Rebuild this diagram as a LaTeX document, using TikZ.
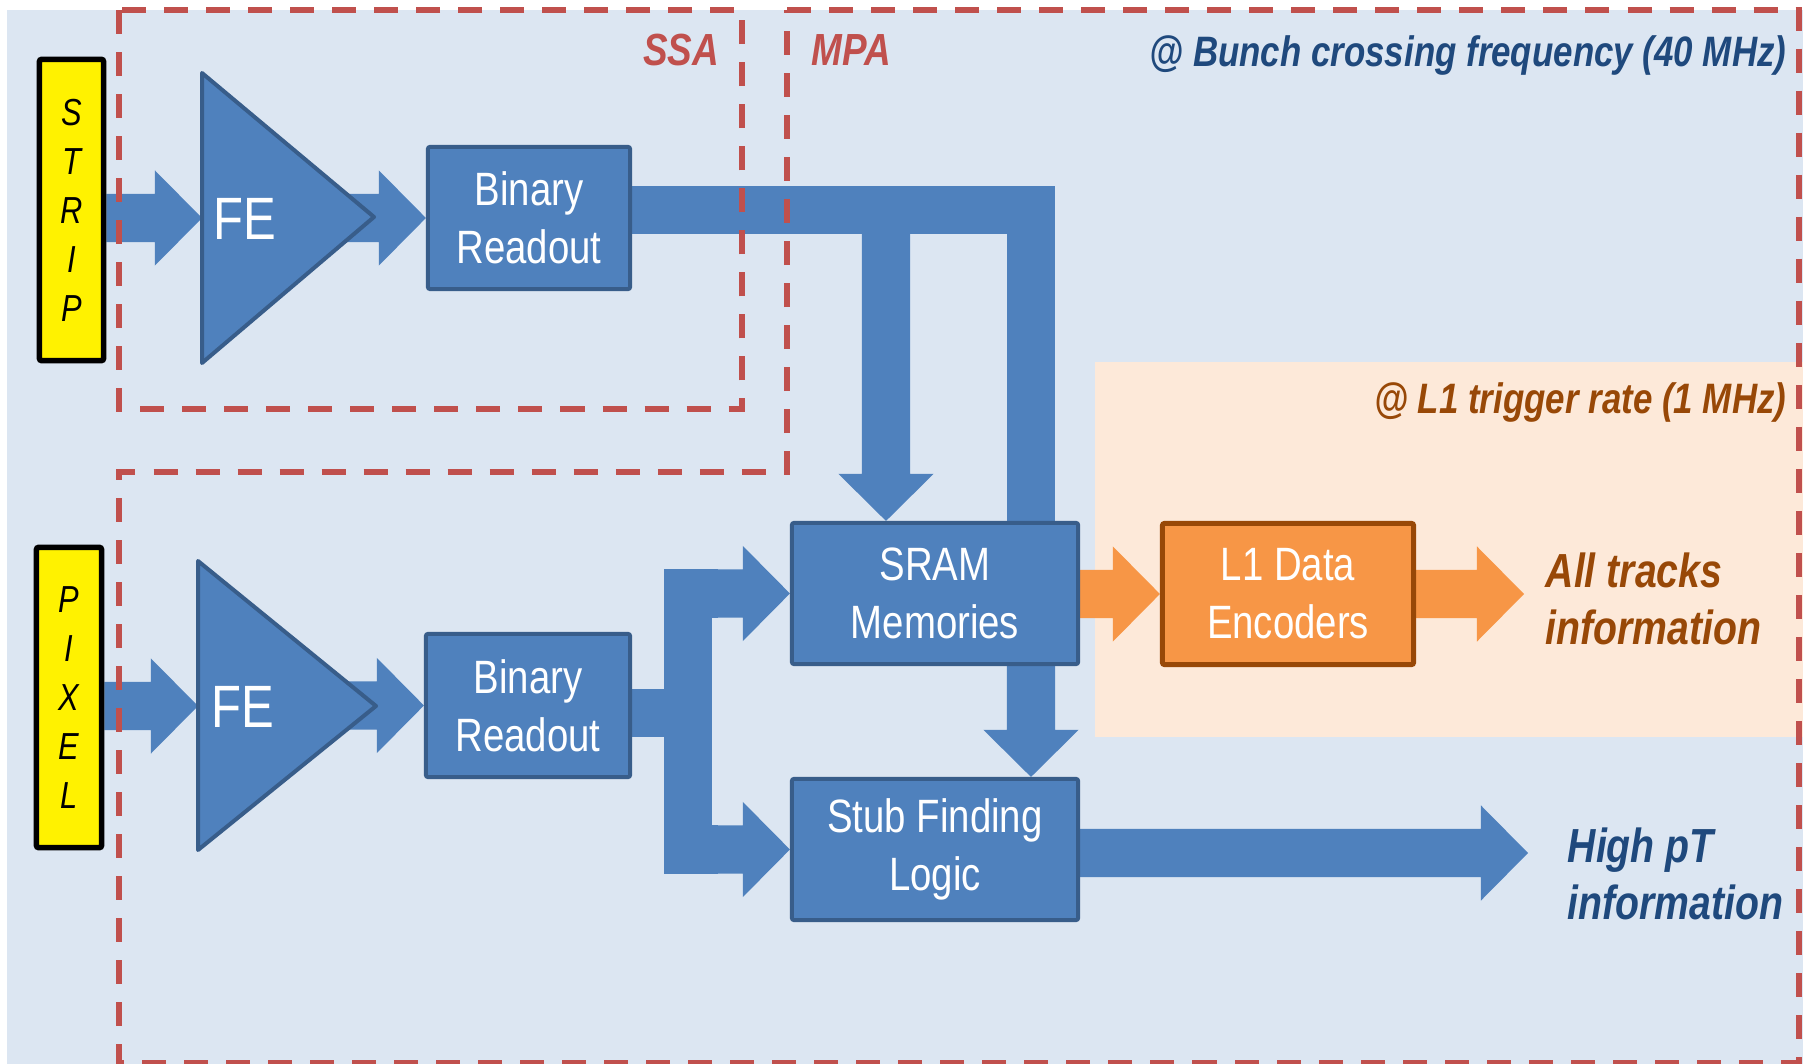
\documentclass[tikz,border=0pt]{standalone}
\usepackage{fontspec}
\setmainfont[FakeStretch=0.82]{Liberation Sans}
\usetikzlibrary{calc}
\pgfdeclarelayer{back}
\pgfdeclarelayer{mid}
\pgfsetlayers{back,mid,main}

\definecolor{bgblue}{HTML}{DCE6F2}
\definecolor{peach}{HTML}{FDE9D9}
\definecolor{blk}{HTML}{4F81BD}
\definecolor{blkline}{HTML}{385D8A}
\definecolor{encfill}{HTML}{F79646}
\definecolor{encline}{HTML}{984807}
\definecolor{zonered}{HTML}{C0504D}
\definecolor{navytxt}{HTML}{1F497D}
\definecolor{browntxt}{HTML}{984807}

% block-arrow geometry
\def\shaftw{0.24cm}
\def\headw{0.475cm}
\def\headl{0.47cm}

% horizontal block arrow: shaft starts at x of #2, tip at #3
\newcommand\harrow[3][blk]{%
  \fill[#1] let \p1=(#2), \p2=(#3) in
    (\x1,\y2+\shaftw) -- (\x2-\headl,\y2+\shaftw) -- (\x2-\headl,\y2+\headw)
    -- (\x2,\y2) -- (\x2-\headl,\y2-\headw) -- (\x2-\headl,\y2-\shaftw)
    -- (\x1,\y2-\shaftw) -- cycle;}
% downward block arrow: shaft starts at y of #2, tip at #3
\newcommand\varrow[3][blk]{%
  \fill[#1] let \p1=(#2), \p2=(#3) in
    (\x2-\shaftw,\y1) -- (\x2-\shaftw,\y2+\headl) -- (\x2-\headw,\y2+\headl)
    -- (\x2,\y2) -- (\x2+\headw,\y2+\headl) -- (\x2+\shaftw,\y2+\headl)
    -- (\x2+\shaftw,\y1) -- cycle;}

\tikzset{
  chip/.style={draw=blkline, fill=blk, line width=0.04cm, rounded corners=0.02cm,
    text=white, align=center, inner sep=0pt,
    font=\fontsize{13.3}{16.5}\selectfont},
  encoder/.style={chip, draw=encline, fill=encfill, line width=0.05cm},
  sensor/.style={draw=black, fill=yellow, line width=0.055cm, rounded corners=0.02cm,
    inner sep=0pt, align=center, font=\fontsize{10.7}{13.95}\selectfont\itshape},
  amp/.style={draw=blkline, fill=blk, line width=0.04cm, line join=round},
  amptext/.style={text=white, inner sep=0pt, anchor=west, font=\fontsize{17}{20}\selectfont},
  bus/.style={draw=blk, line width=0.48cm, line join=miter, line cap=butt},
  zone/.style={draw=zonered, line width=0.06cm, dash pattern=on 0.24cm off 0.18cm},
  zonelabel/.style={text=zonered, inner sep=0pt, anchor=base,
    font=\fontsize{12.8}{15}\selectfont\bfseries\itshape},
  ratelabel/.style={inner sep=0pt, anchor=base east,
    font=\fontsize{12.1}{14}\selectfont\bfseries\itshape},
  outlabel/.style={inner sep=0pt, anchor=west, align=left,
    font=\fontsize{13.6}{16.2}\selectfont\bfseries\itshape},
}

\begin{document}
\begin{tikzpicture}[x=0.01cm, y=-0.01cm]
\useasboundingbox (0,0) rectangle (1806,1064);

% backgrounds of the two rate domains
\begin{pgfonlayer}{back}
  \fill[white] (0,0) rectangle (1806,1064);
  \fill[bgblue] (7,10) rectangle (1803,1064);
  \fill[peach] (1095,362) rectangle (1803,737);
\end{pgfonlayer}

% sensors
\node[sensor, minimum width=0.64cm, minimum height=3.01cm] (strip) at (71.5,210)
  {S\\T\\R\\I\\P};
\node[sensor, minimum width=0.65cm, minimum height=3.0cm] (pixel) at (69,697.5)
  {P\\I\\X\\E\\L};

% front-end amplifiers
\coordinate (feAtop) at (202,73);
\coordinate (feAbot) at (202,363);
\coordinate (feAtip) at (374,217);
\coordinate (feAin) at (202,218);
\coordinate (feAout) at (330,218);
\draw[amp] (feAtop) -- (feAbot) -- (feAtip) -- cycle;
\node[amptext] (feA) at (213,219) {FE};

\coordinate (feBtop) at (198,561);
\coordinate (feBbot) at (198,850);
\coordinate (feBtip) at (376,706);
\coordinate (feBin) at (198,706);
\coordinate (feBout) at (330,706);
\draw[amp] (feBtop) -- (feBbot) -- (feBtip) -- cycle;
\node[amptext] (feB) at (211,706.5) {FE};

% processing blocks
\node[chip, minimum width=2.02cm, minimum height=1.42cm] (br1) at (529,218) {Binary\\Readout};
\node[chip, minimum width=2.04cm, minimum height=1.43cm] (br2) at (528,705.5) {Binary\\Readout};
\node[chip, minimum width=2.86cm, minimum height=1.41cm] (sram) at (935,593.5) {SRAM\\Memories};
\node[chip, minimum width=2.86cm, minimum height=1.41cm] (stub) at (935,849.5) {Stub Finding\\Logic};
\node[encoder, minimum width=2.51cm, minimum height=1.41cm] (l1) at (1288,594) {L1 Data\\Encoders};

% free ends of the output arrows
\coordinate (allTip) at (1524,594);
\coordinate (highTip) at (1528,853);

% routing points of the wide data paths
\coordinate (busR) at (1031,210);
\coordinate (busL) at (886,210);
\coordinate (split) at (688,713);

\begin{pgfonlayer}{mid}
  % strip path
  \harrow{strip.east}{feAin}
  \harrow{feAout}{br1.west}
  \draw[bus] (br1.east |- busR) -- (busR) -- (busR |- sram.north);
  \varrow{busL}{busL |- sram.north}
  \varrow{sram.south -| busR}{stub.north -| busR}
  % pixel path
  \harrow{pixel.east}{feBin}
  \harrow{feBout}{br2.west}
  \draw[bus] (br2.east |- split) -- (split);
  \draw[bus] ($(sram.west -| split)+(30,0)$) -- (sram.west -| split)
    -- (stub.west -| split) -- ($(stub.west -| split)+(30,0)$);
  \harrow{sram.west -| split}{sram.west}
  \harrow{stub.west -| split}{stub.west}
  % outputs
  \harrow[encfill]{sram.east}{l1.west}
  \harrow[encfill]{l1.east}{allTip}
  \harrow{stub.east}{highTip}
\end{pgfonlayer}

% chip boundaries
\draw[zone] (119,10) rectangle (742,409);
\draw[zone] (787,10) -- (1799,10) -- (1799,1063) -- (119,1063) -- (119,472) -- (787,472) -- cycle;
\node[zonelabel] (ssa) at (681,66) {SSA};
\node[zonelabel] (mpa) at (851,66) {MPA};

% rate domains
\node[ratelabel, text=navytxt] (bx) at (1787,67) {@ Bunch crossing frequency (40 MHz)};
\node[ratelabel, text=browntxt] (l1rate) at (1787,413) {@ L1 trigger rate (1 MHz)};

% outputs
\node[outlabel, text=browntxt] (alltracks) at (1545,599) {All tracks\\information};
\node[outlabel, text=navytxt] (highpt) at (1567,873.5) {High pT\\information};
\end{tikzpicture}
\end{document}
